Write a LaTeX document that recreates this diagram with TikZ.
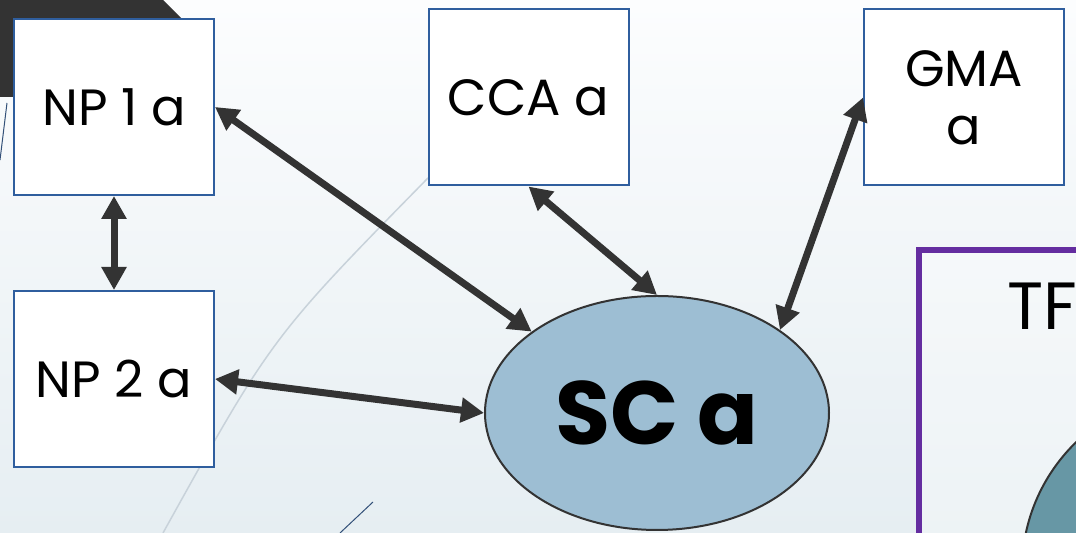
\documentclass[tikz,border=0pt]{standalone}
\usepackage{fontspec}
\setmainfont{Poppins}
\usetikzlibrary{arrows.meta,shapes,positioning}
\definecolor{bgtop}{RGB}{252,253,254}
\definecolor{bgbottom}{RGB}{230,238,242}
\definecolor{dfdark}{RGB}{51,51,51}
\definecolor{boxblue}{RGB}{47,94,158}
\definecolor{scblue}{RGB}{157,190,211}
\definecolor{tfcpurple}{RGB}{100,45,160}
\definecolor{tfcteal}{RGB}{103,151,165}
\definecolor{arcgray}{RGB}{200,210,218}
\definecolor{thinblue}{RGB}{50,80,120}
\tikzstyle{agentbox} = [rectangle, draw=boxblue, fill=white, line width=0.04cm, minimum width=4cm, minimum height=3.52cm, inner sep=0pt, text centered, font=\fontsize{29}{33}\selectfont]
\tikzstyle{hubnode} = [ellipse, draw=dfdark, fill=scblue, line width=0.04cm, minimum width=6.88cm, minimum height=4.68cm, inner sep=0pt, font=\fontsize{51}{60}\selectfont\bfseries]
\tikzstyle{dblarrow} = [{Triangle[length=0.46cm,width=0.48cm]}-{Triangle[length=0.46cm,width=0.48cm]}, line width=0.14cm, color=dfdark]
\tikzstyle{panel} = [draw=tfcpurple, line width=0.12cm, fill=white, fill opacity=0.3]
\tikzstyle{decoline} = [thinblue, line width=0.02cm]

\begin{document}
\begin{tikzpicture}
\useasboundingbox (0,0) rectangle (21.52,10.66);
\clip (0,0) rectangle (21.52,10.66);
\shade[top color=bgtop, bottom color=bgbottom] (0,0) rectangle (21.52,10.66);

% Background decorations
\fill[dfdark] (0,10.66) -- (3.26,10.66) -- (4.0,9.92) -- (4.0,8.72) -- (0,8.72) -- cycle;
\draw[decoline] (0.14,8.6) -- (0,7.46);
\draw[arcgray, line width=0.03cm] (8.56,7.10) .. controls (5.43,3.91) .. (3.26,0);
\draw[decoline] (7.46,0.62) -- (6.8,0);

% Agencies
\node[agentbox] (np1) at (2.28,8.52) {NP 1 a};
\node[agentbox, below=1.88cm of np1] (np2) {NP 2 a};
\node[agentbox] (cca) at (10.57,8.71) {CCA a};
\node[agentbox, align=center] (gma) at (19.28,8.71) {GMA\\a};
\node[hubnode] (sc) at (13.14,2.40) {SC a};

% TFC panel
\draw[panel] (18.38,-1) rectangle (23,5.66);
\node[anchor=base west, font=\fontsize{38}{44}\selectfont, inner sep=0pt] (tfc) at (20.14,4.06) {TFC};
\draw[draw=dfdark, fill=tfcteal, line width=0.04cm] (24.0,-0.74) circle (3.56);

% Links
\draw[dblarrow] (np1.east) -- (sc.147);
\draw[dblarrow] (np1.south) -- (np2.north);
\draw[dblarrow] (np2.east) -- (sc.west);
\draw[dblarrow] (cca.south) -- (sc.north);
\draw[dblarrow] (gma.west) -- (sc.34);
\end{tikzpicture}
\end{document}
